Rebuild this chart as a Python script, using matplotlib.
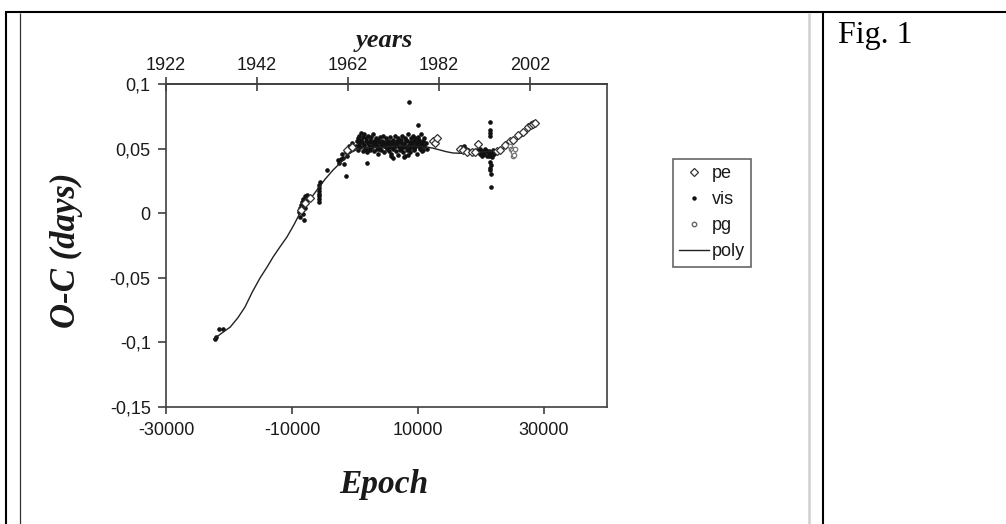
import matplotlib
matplotlib.use("Agg")
import matplotlib.pyplot as plt
from matplotlib.lines import Line2D

# ---------------- data ----------------
poly_epoch = [-22400, -21200, -19800, -18600, -17460, -16300, -15080, -14000, -13000,
              -11900, -10800, -9700, -8730, -7400, -6030, -4800, -3490, -2100, -800,
              200, 1270, 2800, 4440, 6000, 7620, 9500, 11430, 12500, 13500, 14500,
              15560, 17000, 18250, 19300, 20300, 21700, 23000, 24000, 25080, 26200,
              27300, 28300]
poly_oc = [-0.0974, -0.0930, -0.0881, -0.0810, -0.0726, -0.0610, -0.0502, -0.0420,
           -0.0339, -0.0260, -0.0184, -0.0090, 0.0001, 0.0090, 0.0180, 0.0260,
           0.0334, 0.0400, 0.0466, 0.0490, 0.0505, 0.0510, 0.0512, 0.0517, 0.0520,
           0.0518, 0.0512, 0.0502, 0.0489, 0.0476, 0.0466, 0.0463, 0.0466, 0.0469,
           0.0474, 0.0480, 0.0489, 0.0515, 0.0551, 0.0585, 0.0621, 0.0683]

# visual timings (dots)
vis_early_epoch = [-22300, -22000, -21600, -20950]
vis_early_oc = [-0.0970, -0.0962, -0.0897, -0.0897]

vis_rise_epoch = [-8900, -8800, -8700, -8600, -8500, -8400, -8300, -8250, -8200, -8100,
                  -8000, -7950, -7900, -7800, -7700, -7600, -7500, -8350, -8050,
                  -5750, -5720, -5700, -5690, -5710, -5730, -5700, -5600, -4400,
                  -2700, -2500, -2300, -2100, -1900, -1700, -1500, -1400, -1300,
                  -1200, -1000, -900, -600, -400, -200]
vis_rise_oc = [0.0010, 0.0040, -0.0030, 0.0060, 0.0020, 0.0090, 0.0050, -0.0010, 0.0110,
               0.0070, 0.0130, 0.0090, 0.0040, 0.0100, 0.0080, 0.0140, 0.0120, 0.0030,
               -0.0050, 0.0220, 0.0195, 0.0175, 0.0150, 0.0130, 0.0110, 0.0087, 0.0245,
               0.0334, 0.0410, 0.0390, 0.0420, 0.0460, 0.0430, 0.0380, 0.0290, 0.0470,
               0.0440, 0.0500, 0.0480, 0.0520, 0.0500, 0.0540, 0.0510]

vis_main_epoch = [150, 300, 420, 500, 640, 700, 830, 900, 1000, 1120, 1200, 1330, 1400,
                  1500, 1640, 1700, 1810, 1900, 2030, 2100, 2180, 2330, 2400, 2520,
                  2600, 2740, 2800, 2880, 3010, 3120, 3200, 3290, 3430, 3500, 3620,
                  3700, 3790, 3920, 4000, 4130, 4200, 4280, 4400, 4510, 4600, 4700,
                  4790, 4900, 5020, 5100, 5200, 5320, 5400, 5480, 5600, 5700, 5790,
                  5900, 6000, 6090, 6200, 6300, 6390, 6500, 6600, 6680, 6800, 6870,
                  7000, 7100, 7180, 7300, 7400, 7480, 7600, 7700, 7790, 7900, 8000,
                  8090, 8200, 8300, 8380, 8500, 8600, 8690, 8800, 8880, 9000, 9100,
                  9190, 9300, 9400, 9480, 9600, 9700, 9790, 9900, 10000, 10100, 10200,
                  10300, 10400, 10500, 10600, 10700, 10800, 10900, 11000, 11200, 11400,
                  6100, 6400, 6900, 7250, 7650, 7850, 8150, 8450, 8750, 9050, 9350,
                  9650, 9950, 10250, 10550, 10850, 5150, 5450, 5750, 4650, 4350, 3850,
                  3350, 2950, 2450, 1950, 1450, 950, 650]
vis_main_oc = [0.052, 0.056, 0.049, 0.058, 0.054, 0.060, 0.051, 0.057, 0.062, 0.055,
               0.048, 0.059, 0.053, 0.061, 0.050, 0.056, 0.058, 0.047, 0.054, 0.060,
               0.052, 0.057, 0.049, 0.055, 0.059, 0.051, 0.053, 0.061, 0.048, 0.056,
               0.054, 0.058, 0.050, 0.052, 0.057, 0.046, 0.055, 0.059, 0.051, 0.053,
               0.049, 0.056, 0.054, 0.060, 0.047, 0.052, 0.055, 0.058, 0.050, 0.053,
               0.056, 0.048, 0.054, 0.059, 0.051, 0.055, 0.046, 0.053, 0.057, 0.050,
               0.054, 0.060, 0.052, 0.048, 0.056, 0.053, 0.058, 0.045, 0.051, 0.055,
               0.049, 0.057, 0.053, 0.060, 0.047, 0.054, 0.051, 0.058, 0.044, 0.052,
               0.056, 0.049, 0.061, 0.053, 0.050, 0.055, 0.047, 0.058, 0.052, 0.054,
               0.060, 0.049, 0.056, 0.051, 0.058, 0.053, 0.046, 0.055, 0.059, 0.052,
               0.057, 0.050, 0.054, 0.061, 0.053, 0.048, 0.056, 0.052, 0.058, 0.054,
               0.050, 0.0425, 0.052, 0.055, 0.050, 0.053, 0.0437, 0.057, 0.045, 0.051,
               0.055, 0.050, 0.053, 0.056, 0.051, 0.054, 0.049, 0.051, 0.055, 0.0445,
               0.052, 0.054, 0.050, 0.053, 0.056, 0.051, 0.049, 0.053, 0.055, 0.052]

vis_outlier_epoch = [1900, 8570, 10000]
vis_outlier_oc = [0.0389, 0.0860, 0.0680]

vis_late_epoch = [16600, 16900, 17100, 17300, 17600, 17900, 18200, 18500, 19400, 19700,
                  19900, 20100, 20300, 20500, 20700, 20900, 21100, 21200, 21300, 21500,
                  21700, 21800, 22000, 22200, 20600, 21000, 21400, 21900, 20200, 19800,
                  21400, 21400, 21450, 21420, 21500, 21520, 21480, 21550, 21600, 21500]
vis_late_oc = [0.0495, 0.0510, 0.0485, 0.0520, 0.0500, 0.0490, 0.0475, 0.0480, 0.0490,
               0.0470, 0.0500, 0.0455, 0.0480, 0.0460, 0.0490, 0.0445, 0.0470, 0.0440,
               0.0485, 0.0455, 0.0475, 0.0435, 0.0460, 0.0470, 0.0500, 0.0480, 0.0450,
               0.0490, 0.0440, 0.0460, 0.0708, 0.0644, 0.0620, 0.0595, 0.0400, 0.0373,
               0.0334, 0.0300, 0.0203, 0.0350]

# photoelectric timings (open diamonds)
pe_epoch = [-8500, -7900, -7200, -1200, -500, 12400, 12700, 13000, 16700, 17200, 17700,
            18500, 19000, 19600, 22500, 23000, 23800, 24600, 25100, 25900, 26700,
            27500, 27900, 28250, 28600]
pe_oc = [0.0025, 0.0080, 0.0115, 0.0490, 0.0512, 0.0560, 0.0545, 0.0580, 0.0500,
         0.0489, 0.0476, 0.0476, 0.0476, 0.0535, 0.0480, 0.0489, 0.0530, 0.0555,
         0.0570, 0.0605, 0.0628, 0.0667, 0.0683, 0.0690, 0.0698]

# photographic timings (small grey circles)
pg_epoch = [24600, 24700, 24900, 25000, 25100, 25200, 25400]
pg_oc = [0.0520, 0.0500, 0.0490, 0.0440, 0.0470, 0.0450, 0.0500]

x_ticks = [-30000, -10000, 10000, 30000]
y_ticks = [0.1, 0.05, 0.0, -0.05, -0.1, -0.15]
y_tick_labels = ["0,1", "0,05", "0", "-0,05", "-0,1", "-0,15"]
year_ticks = [1922, 1942, 1962, 1982, 2002]

# ---------------- figure ----------------
W, H = 1006, 524
fig = plt.figure(figsize=(W / 100, H / 100), dpi=100)
fig.patch.set_facecolor("white")


def fx(px):
    return px / W


def fy(py):
    return 1 - py / H


ax = fig.add_axes([fx(166), fy(407), fx(607) - fx(166), fy(84) - fy(407)])
ax.set_xlim(-30000, 40000)
ax.set_ylim(-0.15, 0.1)

spine_c = "#404040"
text_c = "#1a1a1a"
sans = "Liberation Sans"
serif = "Liberation Serif"

for s in ax.spines.values():
    s.set_color(spine_c)
    s.set_linewidth(1.2)

vis_epoch = vis_early_epoch + vis_rise_epoch + vis_main_epoch + vis_outlier_epoch + vis_late_epoch
vis_oc = vis_early_oc + vis_rise_oc + vis_main_oc + vis_outlier_oc + vis_late_oc
ax.plot(vis_epoch, vis_oc, linestyle="none", marker="o", markersize=2.3,
        color="#111111", zorder=2)
ax.plot(poly_epoch, poly_oc, color="#222222", linewidth=1.0, zorder=3)
ax.plot(pe_epoch, pe_oc, linestyle="none", marker="D", markersize=4.2,
        markerfacecolor="white", markeredgecolor="#333333", markeredgewidth=0.9, zorder=4)
ax.plot(pg_epoch, pg_oc, linestyle="none", marker="o", markersize=3.2,
        markerfacecolor="white", markeredgecolor="#777777", markeredgewidth=0.9, zorder=4)

ax.set_xticks(x_ticks)
ax.set_xticklabels([str(v) for v in x_ticks], fontfamily=sans, fontsize=13, color=text_c)
ax.set_yticks(y_ticks)
ax.set_yticklabels(y_tick_labels, fontfamily=sans, fontsize=13, color=text_c)
ax.tick_params(axis="x", direction="out", length=5, width=1.2, color=spine_c, pad=6)
ax.tick_params(axis="y", direction="out", length=6, width=1.2, color=spine_c, pad=5)


def e2y(e):
    return 1922 + (e + 30000) * 20.0 / 14444.0


def y2e(y):
    return (y - 1922) * 14444.0 / 20.0 - 30000


sec = ax.secondary_xaxis("top", functions=(e2y, y2e))
sec.set_xticks(year_ticks)
sec.set_xticklabels([str(v) for v in year_ticks], fontfamily=sans, fontsize=13, color=text_c)
sec.tick_params(direction="inout", length=10, width=1.2, color=spine_c, pad=2)
sec.spines["top"].set_color(spine_c)
sec.spines["top"].set_linewidth(1.2)

# axis titles
fig.text(fx(384), fy(47), "years", fontfamily=serif, fontsize=19, fontweight="bold",
         fontstyle="italic", color=text_c, ha="center", va="baseline")
fig.text(fx(384), fy(493), "Epoch", fontfamily=serif, fontsize=24, fontweight="bold",
         fontstyle="italic", color=text_c, ha="center", va="baseline")
fig.text(fx(66), fy(250), "O-C (days)", fontfamily=serif, fontsize=25, fontweight="bold",
         fontstyle="italic", color=text_c, ha="center", va="center", rotation=90)

handles = [
    Line2D([], [], linestyle="none", marker="D", markersize=4, markerfacecolor="white",
           markeredgecolor="#333333", markeredgewidth=0.9),
    Line2D([], [], linestyle="none", marker="o", markersize=2.2, color="#111111"),
    Line2D([], [], linestyle="none", marker="o", markersize=3.2, markerfacecolor="white",
           markeredgecolor="#666666", markeredgewidth=1.0),
    Line2D([], [], color="#222222", linewidth=1.0),
]
leg = ax.legend(handles, ["pe", "vis", "pg", "poly"], loc="upper left",
                bbox_to_anchor=(fx(673), fy(159)), bbox_transform=fig.transFigure,
                prop={"family": sans, "size": 13}, frameon=True, fancybox=False,
                borderpad=0.35, labelspacing=0.5, handlelength=1.65, handletextpad=0.15,
                borderaxespad=0.0)
leg.get_frame().set_edgecolor(spine_c)
leg.get_frame().set_linewidth(1.2)
for t in leg.get_texts():
    t.set_color(text_c)

# ---------------- table borders ----------------
def fline(x0, y0, x1, y1, color, lw):
    fig.add_artist(Line2D([fx(x0), fx(x1)], [fy(y0), fy(y1)], color=color, linewidth=lw,
                          transform=fig.transFigure, solid_capstyle="butt"))


fline(5, 12, 1006, 12, "black", 1.5)
fline(6, 12, 6, 524, "black", 1.5)
fline(20, 13, 20, 524, "#333333", 0.9)
fline(809, 13, 809, 524, "#cfcfcf", 1.8)
fline(823, 12, 823, 524, "black", 1.5)

fig.text(fx(838), fy(42.5), "Fig. 1", fontfamily=serif, fontsize=23, color="black",
         ha="left", va="baseline")

fig.savefig("out.png", dpi=100, facecolor="white")
